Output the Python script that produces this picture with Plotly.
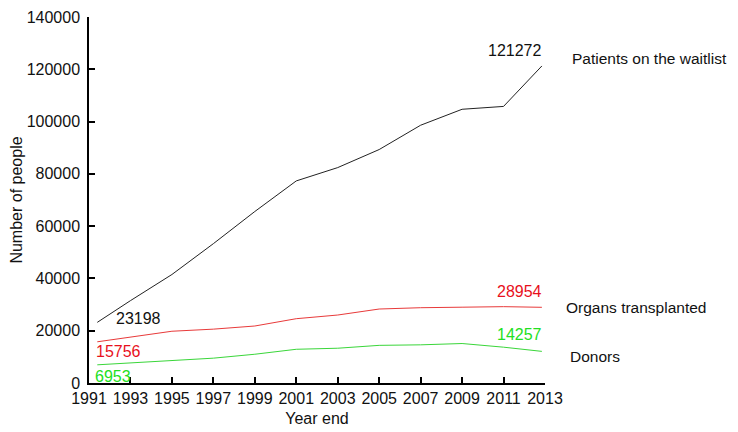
import plotly.graph_objects as go

# Year-end points (first/last points sit slightly inside the axis ends)
years = [1991.4, 1993, 1995, 1997, 1999, 2001, 2003, 2005, 2007, 2009, 2011, 2012.85]

waitlist = [23198, 31500, 41500, 53300, 65600, 77300, 82400, 89300, 98600, 104700, 105800, 121272]
transplanted = [15756, 17600, 19800, 20600, 21800, 24600, 26000, 28300, 28800, 29000, 29200, 28954]
donors = [6953, 7700, 8400, 9500, 11000, 12900, 13300, 14400, 14600, 15100, 13700, 12100]
donors_label = 14257

y_ticks = [0, 20000, 40000, 60000, 80000, 100000, 120000, 140000]
x_ticks = list(range(1991, 2014, 2))

FONT = "Liberation Sans"
SIZE = 16
BLACK = "#111111"
RED = "#e8101c"
GREEN = "#22e022"

series = [
    ("Patients on the waitlist", waitlist, BLACK, "#222222"),
    ("Organs transplanted", transplanted, RED, "#e83a3a"),
    ("Donors", donors, GREEN, "#3ad63a"),
]

fig = go.Figure()
for name, values, text_color, line_color in series:
    fig.add_trace(
        go.Scatter(
            x=years,
            y=values,
            mode="lines",
            name=name,
            line=dict(color=line_color, width=1),
            showlegend=False,
        )
    )


def value_label(x, y, text, color, anchor, xshift, yshift):
    fig.add_annotation(
        x=x, y=y, xref="x", yref="y", text=text, showarrow=False,
        xanchor=anchor, yanchor="middle", xshift=xshift, yshift=yshift,
        font=dict(family=FONT, size=SIZE, color=color),
    )


# start / end values
value_label(years[0], waitlist[0], str(waitlist[0]), BLACK, "left", 17, 4)
value_label(years[0], transplanted[0], str(transplanted[0]), RED, "left", -3, -10)
value_label(years[0], donors[0], str(donors[0]), GREEN, "left", -4, -12)
value_label(years[-1], waitlist[-1], str(waitlist[-1]), BLACK, "right", 1, 15)
value_label(years[-1], transplanted[-1], str(transplanted[-1]), RED, "right", 2, 16)
value_label(years[-1], donors[-1], str(donors_label), GREEN, "right", 2, 17)

# series names on the right
name_pos = [(1.055, 7), (1.042, 0), (1.051, -5)]
for (name, values, _, _), (px, shift) in zip(series, name_pos):
    fig.add_annotation(
        x=px, y=values[-1], xref="paper", yref="y", text=name, showarrow=False,
        xanchor="left", yanchor="middle", yshift=shift,
        font=dict(family=FONT, size=15.5, color=BLACK),
    )

axis_style = dict(
    showline=True, linecolor="black", linewidth=1.5, mirror=False,
    ticks="inside", ticklen=6, tickwidth=1.5, tickcolor="black",
    showgrid=False, zeroline=False, automargin=False,
    tickfont=dict(family=FONT, size=SIZE, color=BLACK),
    title_font=dict(family=FONT, size=SIZE, color=BLACK),
)

# the page body keeps its default 8px margin, so the figure is 8px smaller
fig.update_layout(
    width=730,
    height=424,
    margin=dict(l=81, r=193, t=9, b=49),
    plot_bgcolor="white",
    paper_bgcolor="white",
    xaxis=dict(
        range=[1991, 2013], tickvals=x_ticks, ticktext=[str(t) for t in x_ticks],
        title=dict(text="Year end", standoff=7), **axis_style,
    ),
    yaxis=dict(
        range=[0, 140000], tickvals=y_ticks, tickformat="d", ticklabelstandoff=4,
        title=dict(text="Number of people", standoff=12), **axis_style,
    ),
)

fig.write_html("out.html")
